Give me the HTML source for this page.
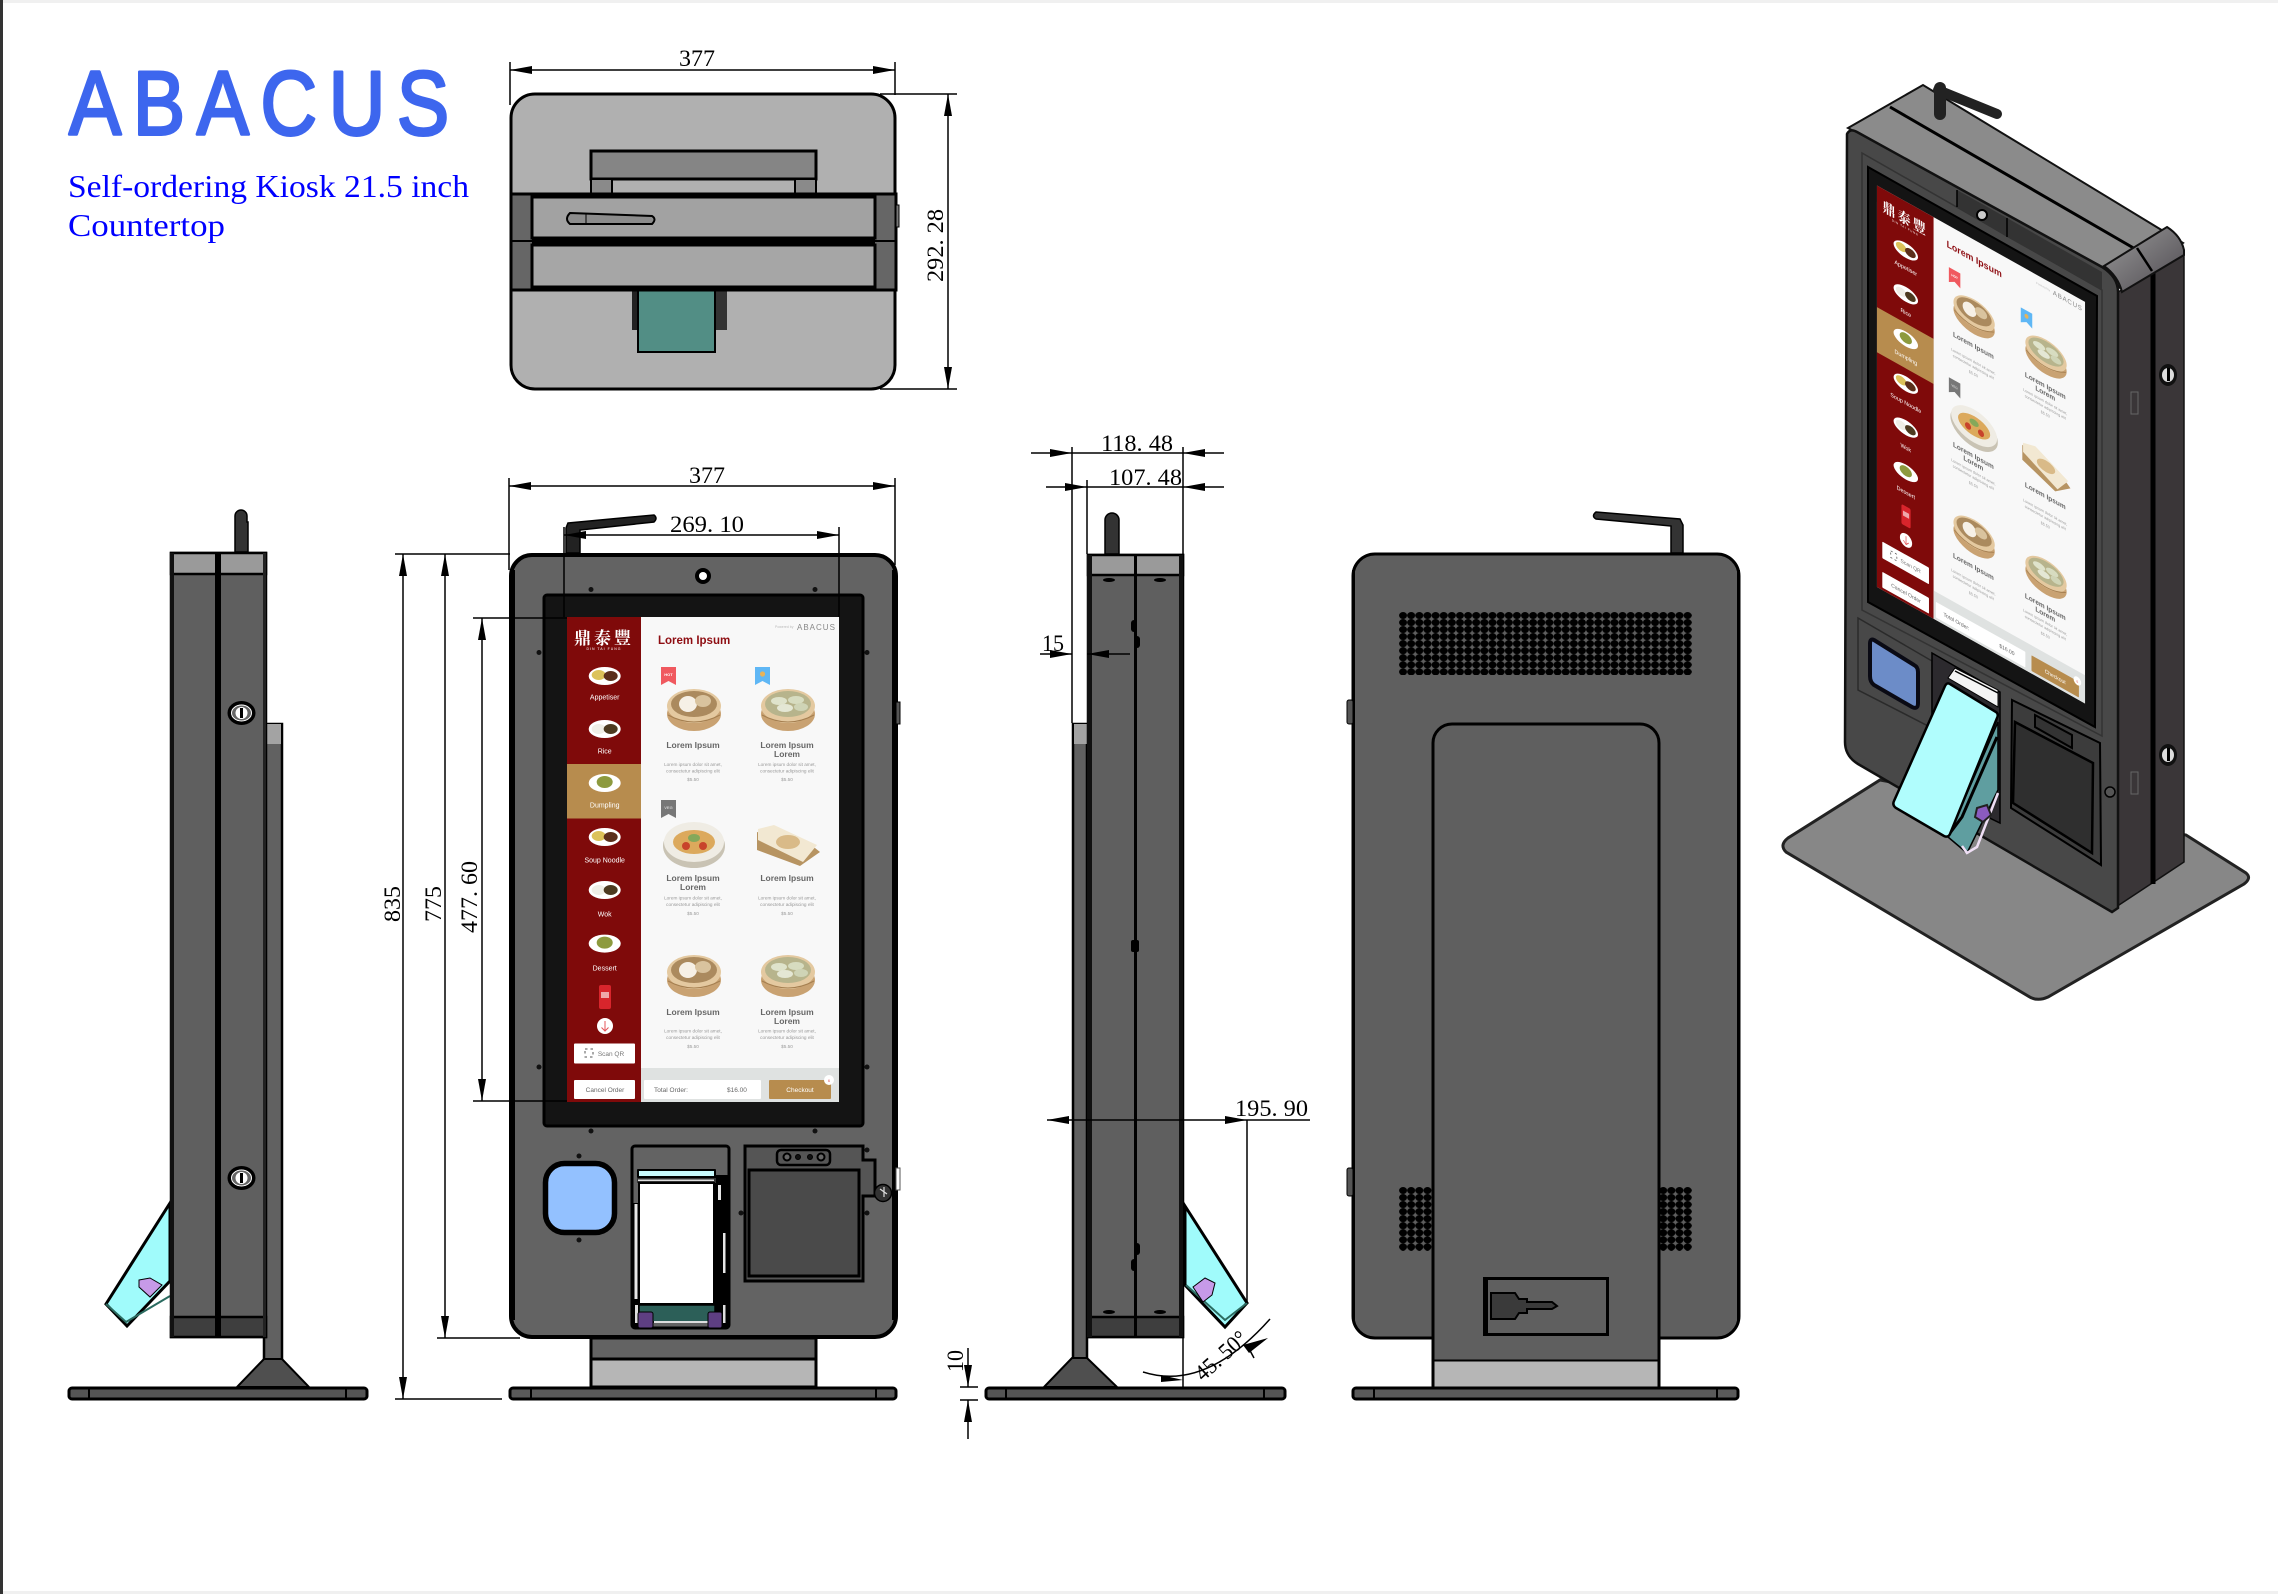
<!DOCTYPE html>
<html><head><meta charset="utf-8"><style>
html,body{margin:0;padding:0;background:#fff}
svg{display:block}
.d{font-family:"Liberation Serif",serif;font-size:23px;fill:#000}
.u{font-family:"Liberation Sans","Noto Sans CJK SC",sans-serif}
</style></head><body>
<svg width="2278" height="1594" viewBox="0 0 2278 1594" xmlns="http://www.w3.org/2000/svg">
<defs>
<marker id="a" markerUnits="userSpaceOnUse" markerWidth="22" markerHeight="8" refX="22" refY="4" orient="auto-start-reverse"><path d="M0,0L22,4L0,8z" fill="#000"/></marker>
<pattern id="sp" patternUnits="userSpaceOnUse" x="1399" y="612" width="8.13" height="7.05"><ellipse cx="4.06" cy="3.5" rx="4" ry="3.5" fill="#000"/></pattern>
<pattern id="sq" patternUnits="userSpaceOnUse" x="1399" y="1187" width="8.13" height="7.05"><ellipse cx="4.06" cy="3.5" rx="4" ry="3.5" fill="#000"/></pattern>
<linearGradient id="cg" x1="0" y1="0" x2="1" y2="1"><stop offset="0" stop-color="#9a9a9a"/><stop offset="1" stop-color="#4e4a50"/></linearGradient>
<g id="bun"><ellipse cy="5" rx="27" ry="17" fill="#c9a272"/><ellipse cy="-3" rx="27" ry="17" fill="#e4c9a0"/><ellipse cy="-5" rx="23" ry="13" fill="#ab8a5e"/><ellipse cx="-6" cy="-5" rx="9" ry="8" fill="#f6f0e6"/><ellipse cx="9" cy="-8" rx="8" ry="6" fill="#d9c39e"/><path d="M-26,6Q0,20 26,6" fill="none" stroke="#a57f50" stroke-width="1"/></g>
<g id="dum"><ellipse cy="5" rx="27" ry="17" fill="#c9a272"/><ellipse cy="-3" rx="27" ry="17" fill="#e4c9a0"/><ellipse cy="-5" rx="23" ry="13" fill="#b7b48c"/><ellipse cx="-9" cy="-8" rx="8" ry="4" fill="#dfe3cb"/><ellipse cx="8" cy="-9" rx="8" ry="4" fill="#d7dcc0"/><ellipse cx="-3" cy="-1" rx="8" ry="4" fill="#e4e7d4"/><ellipse cx="13" cy="-2" rx="7" ry="4" fill="#cfd4b6"/><path d="M-26,6Q0,20 26,6" fill="none" stroke="#a57f50" stroke-width="1"/></g>
<g id="pl1"><ellipse rx="16" ry="9" fill="#fff"/><ellipse cx="-6" cy="-1" rx="7" ry="5" fill="#dcc25a"/><ellipse cx="6" cy="0" rx="7" ry="5" fill="#5c2f1c"/></g>
<g id="pl2"><ellipse rx="16" ry="9" fill="#fff"/><ellipse cx="-6" rx="7" ry="5" fill="#efeee6"/><ellipse cx="6" rx="7" ry="5" fill="#4d3a20"/></g>
<g id="pl3"><ellipse rx="16" ry="9" fill="#fff"/><ellipse cy="-1" rx="8" ry="6" fill="#8d9a3e"/></g>
<g id="screen">
<rect x="567" y="617" width="272" height="485" fill="#f8f8f8"/>
<rect x="567" y="617" width="74" height="485" fill="#7f0a0a"/>
<rect x="567" y="764" width="74" height="54.5" fill="#b78c4e"/>
<text x="604" y="644" text-anchor="middle" class="u" style="font-family:'Noto Serif CJK SC',serif;font-weight:700" font-size="17" fill="#fff" letter-spacing="3">鼎泰豐</text>
<text x="604" y="650" text-anchor="middle" class="u" font-size="3.5" fill="#fff" letter-spacing="1">DIN TAI FUNG</text>
<use href="#pl1" x="604.7" y="676"/><use href="#pl2" x="604.7" y="729"/><use href="#pl3" x="604.7" y="783"/><use href="#pl1" x="604.7" y="837"/><use href="#pl2" x="604.7" y="890"/><use href="#pl3" x="604.7" y="943.6"/>
<g class="u" font-size="7" fill="#fff" text-anchor="middle">
<text x="604.7" y="699.5">Appetiser</text><text x="604.7" y="753.5">Rice</text><text x="604.7" y="807.5">Dumpling</text><text x="604.7" y="862.5">Soup Noodle</text><text x="604.7" y="916.5">Wok</text><text x="604.7" y="970.5">Dessert</text></g>
<rect x="599" y="985" width="12" height="24" rx="2" fill="#d8252c"/><rect x="601" y="992" width="8" height="6" fill="#fff" opacity=".6"/>
<circle cx="605" cy="1026" r="8" fill="#fff"/><path d="M605,1021V1031M601.5,1027.5L605,1031L608.5,1027.5" stroke="#e4555a" fill="none" stroke-width="1"/>
<rect x="574" y="1043.5" width="61" height="20" rx="1" fill="#fff"/>
<rect x="585" y="1049" width="8" height="8" fill="none" stroke="#555" stroke-dasharray="2.5 3"/>
<text x="611" y="1056" class="u" font-size="6.5" fill="#777" text-anchor="middle">Scan QR</text>
<rect x="574" y="1080" width="61" height="19" rx="1" fill="#fff"/>
<text x="605" y="1092" class="u" font-size="6.5" fill="#666" text-anchor="middle">Cancel Order</text>
<text x="658" y="644" class="u" font-size="11.5" font-weight="700" fill="#8e0d12">Lorem Ipsum</text>
<text x="775" y="628" class="u" font-size="3.5" fill="#bbb">Powered by</text>
<text x="797" y="630" class="u" font-size="8" fill="#888" letter-spacing="1">ABACUS</text>
<path d="M661,667H676V685L668.5,681L661,685z" fill="#f0595f"/><text x="668.5" y="676" class="u" font-size="4" font-weight="700" fill="#fff" text-anchor="middle">HOT</text>
<path d="M755,667H770V685L762.5,681L755,685z" fill="#5fb7f5"/><circle cx="762.5" cy="674" r="2.6" fill="#e7b35a"/>
<path d="M661,800H676V818L668.5,814L661,818z" fill="#777"/><text x="668.5" y="809" class="u" font-size="4" font-weight="700" fill="#ccc" text-anchor="middle">VEG</text>
<use href="#bun" x="694" y="709"/><use href="#dum" x="788" y="709"/>
<ellipse cx="694" cy="846" rx="31" ry="22" fill="#c9c3b4"/><ellipse cx="694" cy="842" rx="30" ry="20" fill="#efece4"/><ellipse cx="694" cy="842" rx="21" ry="12" fill="#dca95c"/><circle cx="686" cy="846" r="4" fill="#c8432b"/><circle cx="703" cy="846" r="4" fill="#c8432b"/><ellipse cx="694" cy="838" rx="6" ry="4" fill="#85a85a"/>
<path d="M757,832L815,848L820,852L800,866L757,850L757,842z" fill="#b79462"/><path d="M758,829L774,825L817,845L803,862L758,840z" fill="#f2e8d2"/><ellipse cx="788" cy="842" rx="12" ry="7" fill="#d9ba88"/>
<use href="#bun" x="694" y="975"/><use href="#dum" x="788" y="975"/>
<g class="u" font-size="8.5" font-weight="700" fill="#666" text-anchor="middle">
<text x="693" y="748">Lorem Ipsum</text><text x="787" y="748">Lorem Ipsum</text><text x="787" y="757">Lorem</text>
<text x="693" y="881">Lorem Ipsum</text><text x="693" y="890">Lorem</text><text x="787" y="881">Lorem Ipsum</text>
<text x="693" y="1015">Lorem Ipsum</text><text x="787" y="1015">Lorem Ipsum</text><text x="787" y="1024">Lorem</text></g>
<g class="u" font-size="4.7" fill="#999" text-anchor="middle">
<text x="693" y="766">Lorem ipsum dolor sit amet,</text><text x="693" y="772.5">consectetur adipiscing elit</text><text x="693" y="781">$5.50</text>
<text x="787" y="766">Lorem ipsum dolor sit amet,</text><text x="787" y="772.5">consectetur adipiscing elit</text><text x="787" y="781">$5.50</text>
<text x="693" y="899.5">Lorem ipsum dolor sit amet,</text><text x="693" y="906">consectetur adipiscing elit</text><text x="693" y="915">$5.50</text>
<text x="787" y="899.5">Lorem ipsum dolor sit amet,</text><text x="787" y="906">consectetur adipiscing elit</text><text x="787" y="915">$5.50</text>
<text x="693" y="1032.5">Lorem ipsum dolor sit amet,</text><text x="693" y="1039">consectetur adipiscing elit</text><text x="693" y="1048">$5.50</text>
<text x="787" y="1032.5">Lorem ipsum dolor sit amet,</text><text x="787" y="1039">consectetur adipiscing elit</text><text x="787" y="1048">$5.50</text></g>
<rect x="641" y="1068" width="198" height="34" fill="#dfe2e1"/>
<rect x="644" y="1080" width="117" height="19" rx="1" fill="#fff"/>
<text x="654" y="1092" class="u" font-size="6.5" fill="#666">Total Order:</text><text x="727" y="1092" class="u" font-size="6.5" fill="#666">$16.00</text>
<rect x="769" y="1080" width="62" height="19" rx="1" fill="#b78c4e"/>
<text x="800" y="1092" class="u" font-size="6.5" fill="#fff" text-anchor="middle">Checkout</text>
<circle cx="829" cy="1080" r="5" fill="#fff"/><text x="829" y="1082" class="u" font-size="4" fill="#e4555a" text-anchor="middle">6</text>
</g>
</defs>

<rect width="2278" height="1594" fill="#fff"/>
<rect width="2278" height="3" fill="#f0f0f0"/>
<rect y="1591" width="2278" height="3" fill="#f0f0f0"/>
<rect width="3" height="1594" fill="#333"/>

<!-- Logo & title -->
<text transform="translate(69,134.5) scale(0.86,1)" font-family="Liberation Sans,sans-serif" font-size="91" fill="#3d66ee" stroke="#3d66ee" stroke-width="3" stroke-linejoin="round" textLength="442" lengthAdjust="spacing">ABACUS</text>
<text x="68" y="197" font-family="Liberation Serif,serif" font-size="32" fill="#0000ff" textLength="401" lengthAdjust="spacingAndGlyphs">Self-ordering Kiosk 21.5 inch</text>
<text x="68" y="236" font-family="Liberation Serif,serif" font-size="32" fill="#0000ff" textLength="157" lengthAdjust="spacingAndGlyphs">Countertop</text>

<!-- Top view -->
<rect x="511" y="94" width="384" height="295" rx="24" fill="#b0b0b0" stroke="#000" stroke-width="3"/>
<rect x="591" y="151" width="225" height="28" fill="#858585" stroke="#000" stroke-width="3"/>
<rect x="591" y="179" width="21" height="15" fill="#8a8a8a" stroke="#000" stroke-width="2"/>
<rect x="795" y="179" width="21" height="15" fill="#8a8a8a" stroke="#000" stroke-width="2"/>
<rect x="632" y="290" width="6" height="40" fill="#222"/><rect x="715" y="290" width="12" height="40" fill="#333"/>
<rect x="638" y="290" width="77" height="62" fill="#528e85" stroke="#000" stroke-width="2"/>
<rect x="511" y="194" width="385" height="96" fill="#666" stroke="#000" stroke-width="3"/>
<rect x="532" y="197" width="343" height="41" fill="#a2a2a2" stroke="#000" stroke-width="3"/>
<rect x="532" y="245" width="343" height="42" fill="#a6a6a6" stroke="#000" stroke-width="3"/>
<rect x="532" y="238" width="343" height="7" fill="#000"/>
<rect x="511" y="240" width="385" height="2" fill="#000"/>
<path d="M896,205h3v22h-3z" fill="#777" stroke="#000"/>
<path d="M570,213L652,216Q657,219 652,224L570,224Q564,219 570,213z" fill="#8c8c8c" stroke="#000" stroke-width="2"/><line x1="586" y1="213" x2="586" y2="224" stroke="#000"/>

<!-- Top dims -->
<g stroke="#000" stroke-width="1.5" fill="none">
<line x1="510" y1="62" x2="510" y2="105"/><line x1="895" y1="62" x2="895" y2="95"/>
<line x1="510" y1="70" x2="895" y2="70" marker-start="url(#a)" marker-end="url(#a)"/>
<line x1="880" y1="94" x2="957" y2="94"/><line x1="880" y1="389" x2="957" y2="389"/>
<line x1="948" y1="94" x2="948" y2="389" marker-start="url(#a)" marker-end="url(#a)"/>
</g>
<text x="679" y="66" class="d" textLength="36" lengthAdjust="spacingAndGlyphs">377</text>
<text transform="translate(943,282) rotate(-90)" class="d" textLength="73" lengthAdjust="spacingAndGlyphs">292. 28</text>

<!-- Left side view -->
<g stroke="#000">
<path d="M235,516a6,6 0 0 1 12,0v6h1v30h-13z" fill="#333" stroke-width="1.5"/>
<path d="M170,1203L106,1304L127,1326L170,1281z" fill="#a0fbfb" stroke-width="3"/>
<path d="M106,1304L126,1322L170,1296" fill="none" stroke="#2b6b60" stroke-width="2"/>
<path d="M139,1280L150,1278L162,1285L150,1297L139,1287z" fill="#c79ae8" stroke-width="1"/>
<rect x="264" y="724" width="18" height="636" fill="#616161" stroke-width="2.5"/>
<rect x="265" y="724" width="16" height="20" fill="#a3a3a3" stroke="none"/>
<path d="M264,1359L237,1387H309L282,1359z" fill="#4f4f4f" stroke-width="2"/>
<rect x="69" y="1388" width="298" height="11" rx="3" fill="#555" stroke-width="3"/>
<line x1="89" y1="1388" x2="89" y2="1399" stroke-width="2"/><line x1="346" y1="1388" x2="346" y2="1399" stroke-width="2"/>
<rect x="171" y="553" width="95" height="784" fill="#5f5f5f" stroke-width="2.5"/>
<rect x="171" y="553" width="95" height="21" fill="#9a9a9a" stroke-width="2.5"/>
<rect x="171" y="1317" width="95" height="20" fill="#3e3e3e" stroke-width="2.5"/>
</g>
<rect x="170" y="553" width="4" height="784" fill="#111"/><rect x="215" y="553" width="6" height="784" fill="#000"/><rect x="263" y="553" width="3" height="784" fill="#222"/>
<g><ellipse cx="241.5" cy="713" rx="14" ry="12" fill="#000"/><ellipse cx="241.5" cy="713" rx="10" ry="8" fill="#666" stroke="#fff" stroke-width="1"/><circle cx="241.5" cy="713" r="6" fill="#fff"/><rect x="240" y="708" width="3" height="10" fill="#000"/>
<ellipse cx="241.5" cy="1178" rx="14" ry="12" fill="#000"/><ellipse cx="241.5" cy="1178" rx="10" ry="8" fill="#666" stroke="#fff" stroke-width="1"/><circle cx="241.5" cy="1178" r="6" fill="#fff"/><rect x="240" y="1173" width="3" height="10" fill="#000"/></g>

<!-- Front view -->
<path d="M568,523L654,515Q658,518 654,522L580,530V553H566V528z" fill="#222" stroke="#000" stroke-width="1.5"/>
<rect x="591" y="1338" width="225" height="21" fill="#636363" stroke="#000" stroke-width="3"/>
<rect x="591" y="1359" width="225" height="28" fill="#b6b6b6" stroke="#000" stroke-width="3"/>
<rect x="510" y="1388" width="386" height="11" rx="3" fill="#5a5a5a" stroke="#000" stroke-width="3"/>
<line x1="531" y1="1388" x2="531" y2="1399" stroke="#000" stroke-width="2"/><line x1="876" y1="1388" x2="876" y2="1399" stroke="#000" stroke-width="2"/>
<rect x="511" y="555" width="385" height="782" rx="21" fill="#636363" stroke="#000" stroke-width="4"/>
<rect x="510" y="570" width="5" height="750" fill="#000"/><rect x="892" y="570" width="5" height="750" fill="#000"/>
<rect x="896" y="702" width="4" height="22" fill="#555" stroke="#000"/>
<rect x="544" y="595" width="319" height="531" rx="3" fill="#141414" stroke="#000" stroke-width="3"/>
<use href="#screen"/>
<ellipse cx="703" cy="576" rx="8" ry="8" fill="#000"/><ellipse cx="703" cy="576" rx="4" ry="4" fill="#fff"/>
<g fill="#111"><circle cx="591" cy="589.5" r="2.5"/><circle cx="815" cy="589.5" r="2.5"/><circle cx="539" cy="652.5" r="2.5"/><circle cx="867" cy="652.5" r="2.5"/><circle cx="539" cy="1067" r="2.5"/><circle cx="867" cy="1067" r="2.5"/><circle cx="591" cy="1131" r="2.5"/><circle cx="815" cy="1131" r="2.5"/><circle cx="579" cy="1156" r="2.5"/><circle cx="579" cy="1240" r="2.5"/><circle cx="741" cy="1213" r="2.5"/><circle cx="867" cy="1213" r="2.5"/><circle cx="867" cy="1150" r="2.5"/></g>
<rect x="545.5" y="1163.5" width="69" height="69" rx="19" fill="#93c1ff" stroke="#000" stroke-width="5.5"/>
<!-- printer -->
<rect x="632" y="1146" width="97" height="182" rx="3" fill="#636363" stroke="#000" stroke-width="3"/>
<rect x="632" y="1203" width="8" height="125" fill="#000"/><rect x="714" y="1175" width="14" height="153" fill="#000"/>
<rect x="634.5" y="1204" width="3" height="95" fill="#e6e6e6"/><rect x="635" y="1305" width="3" height="18" fill="#ddd"/>
<rect x="718" y="1185" width="3" height="15" fill="#e6e6e6"/><rect x="723" y="1233" width="2.5" height="40" fill="#e6e6e6"/><rect x="723" y="1305" width="2.5" height="18" fill="#ddd"/>
<rect x="637" y="1169" width="79" height="9" rx="1" fill="#000"/><rect x="639" y="1171" width="75" height="5" fill="#c8fafc"/>
<rect x="637" y="1178" width="79" height="5" fill="#333"/><rect x="638" y="1179.5" width="76" height="1.5" fill="#ddd"/>
<rect x="639" y="1183" width="75" height="121" fill="#fff" stroke="#000" stroke-width="2"/>
<rect x="639" y="1305" width="76" height="17" fill="#2c5f58" stroke="#000" stroke-width="1.5"/>
<rect x="654" y="1321" width="54" height="2" fill="#ddd"/>
<rect x="638" y="1312" width="15" height="16" rx="2" fill="#5e3f82" stroke="#000"/>
<rect x="708" y="1312" width="14" height="16" rx="2" fill="#5e3f82" stroke="#000"/>
<!-- card reader -->
<path d="M745,1146H863V1160H875V1196H863V1281H745z" fill="#555" stroke="#000" stroke-width="3"/>
<rect x="749" y="1170" width="110" height="106" fill="#4a4a4a" stroke="#000" stroke-width="3"/>
<rect x="777" y="1150" width="53" height="15" rx="4" fill="#555" stroke="#000" stroke-width="2.5"/>
<g fill="#111" stroke="#000"><circle cx="787" cy="1157" r="3.5" fill="#666" stroke-width="2"/><circle cx="798" cy="1157" r="2.5"/><circle cx="810" cy="1157" r="2.5"/><circle cx="821" cy="1157" r="3.5" fill="#666" stroke-width="2"/></g>
<circle cx="883" cy="1193" r="8.5" fill="#333" stroke="#000" stroke-width="1.5"/><path d="M880,1189L887,1194M884,1187V1197" stroke="#ddd" stroke-width="1.2"/>
<rect x="896" y="1168" width="4" height="22" fill="#fff" stroke="#555"/>

<!-- Front dims -->
<g stroke="#000" stroke-width="1.5" fill="none">
<line x1="509" y1="478" x2="509" y2="570"/><line x1="895" y1="478" x2="895" y2="565"/>
<line x1="509" y1="486" x2="895" y2="486" marker-start="url(#a)" marker-end="url(#a)"/>
<line x1="564" y1="527" x2="564" y2="617"/><line x1="839" y1="527" x2="839" y2="617"/>
<line x1="564" y1="535" x2="839" y2="535" marker-start="url(#a)" marker-end="url(#a)"/>
<line x1="395" y1="554" x2="510" y2="554"/><line x1="437" y1="1338" x2="520" y2="1338"/><line x1="395" y1="1399" x2="502" y2="1399"/>
<line x1="473" y1="618" x2="567" y2="618"/><line x1="473" y1="1101" x2="567" y2="1101"/>
<line x1="403" y1="554" x2="403" y2="1399" marker-start="url(#a)" marker-end="url(#a)"/>
<line x1="445" y1="554" x2="445" y2="1338" marker-start="url(#a)" marker-end="url(#a)"/>
<line x1="482" y1="618" x2="482" y2="1101" marker-start="url(#a)" marker-end="url(#a)"/>
</g>
<text x="689" y="483" class="d" textLength="36" lengthAdjust="spacingAndGlyphs">377</text>
<text x="670" y="532" class="d" textLength="74" lengthAdjust="spacingAndGlyphs">269. 10</text>
<text transform="translate(400,922) rotate(-90)" class="d" textLength="36" lengthAdjust="spacingAndGlyphs">835</text>
<text transform="translate(441,922) rotate(-90)" class="d" textLength="36" lengthAdjust="spacingAndGlyphs">775</text>
<text transform="translate(477,933) rotate(-90)" class="d" textLength="72" lengthAdjust="spacingAndGlyphs">477. 60</text>

<!-- Right side view -->
<g stroke="#000">
<path d="M1105,520a7,7 0 0 1 14,0v34h-14z" fill="#333" stroke-width="1.5"/>
<path d="M1185,1206L1247,1303L1225,1327L1185,1285z" fill="#a0fbfb" stroke-width="3"/>
<path d="M1186,1285L1225,1320L1247,1303" fill="none" stroke="#2b6b60" stroke-width="2"/>
<path d="M1193,1287L1205,1278L1215,1283L1212,1295L1203,1302z" fill="#c79ae8" stroke-width="1"/>
<rect x="1073" y="724" width="14" height="636" fill="#616161" stroke-width="2.5"/>
<rect x="1074" y="724" width="13" height="20" fill="#a3a3a3" stroke="none"/>
<path d="M1072,1358L1044,1387H1117L1087,1358z" fill="#4f4f4f" stroke-width="2"/>
<rect x="986" y="1388" width="299" height="11" rx="3" fill="#555" stroke-width="3"/>
<line x1="1006" y1="1388" x2="1006" y2="1399" stroke-width="2"/><line x1="1264" y1="1388" x2="1264" y2="1399" stroke-width="2"/>
<rect x="1088" y="555" width="95" height="782" fill="#5f5f5f" stroke-width="2.5"/>
<rect x="1088" y="555" width="95" height="20" fill="#9a9a9a" stroke-width="2.5"/>
<rect x="1088" y="1317" width="95" height="20" fill="#3e3e3e" stroke-width="2.5"/>
</g>
<rect x="1087" y="555" width="5" height="782" fill="#111"/><rect x="1179" y="555" width="4" height="782" fill="#111"/><rect x="1134" y="555" width="3" height="782" fill="#000"/>
<g fill="#000"><rect x="1131" y="620" width="6" height="12" rx="3"/><rect x="1134" y="636" width="6" height="12" rx="3"/><rect x="1131" y="940" width="8" height="12" rx="2"/><rect x="1134" y="1243" width="6" height="12" rx="3"/><rect x="1131" y="1259" width="6" height="12" rx="3"/>
<ellipse cx="1109" cy="580" rx="6" ry="2"/><ellipse cx="1160" cy="580" rx="6" ry="2"/><ellipse cx="1109" cy="1312" rx="6" ry="2"/><ellipse cx="1160" cy="1312" rx="6" ry="2"/></g>

<!-- Right side dims -->
<g stroke="#000" stroke-width="1.5" fill="none">
<line x1="1072" y1="447" x2="1072" y2="723"/><line x1="1087" y1="480" x2="1087" y2="554"/><line x1="1183" y1="447" x2="1183" y2="554"/>
<line x1="1072" y1="453" x2="1183" y2="453"/><line x1="1087" y1="487" x2="1183" y2="487"/>
<line x1="1031" y1="453" x2="1072" y2="453" marker-end="url(#a)"/><line x1="1224" y1="453" x2="1183" y2="453" marker-end="url(#a)"/>
<line x1="1046" y1="487" x2="1087" y2="487" marker-end="url(#a)"/><line x1="1224" y1="487" x2="1183" y2="487" marker-end="url(#a)"/>
<line x1="1040" y1="654" x2="1072" y2="654" marker-end="url(#a)"/><line x1="1130" y1="654" x2="1087" y2="654" marker-end="url(#a)"/>
<line x1="1069" y1="1120" x2="1047" y2="1120" marker-end="url(#a)"/><line x1="1069" y1="1120" x2="1225" y2="1120"/><line x1="1225" y1="1120" x2="1247" y2="1120" marker-end="url(#a)"/><line x1="1247" y1="1120" x2="1310" y2="1120"/>
<line x1="1247" y1="1120" x2="1247" y2="1303"/>
<line x1="1183" y1="1338" x2="1183" y2="1388"/>
<path d="M1143,1372Q1205,1392 1270,1319"/>
<line x1="1247" y1="1345" x2="1254" y2="1358"/>
<line x1="968" y1="1348" x2="968" y2="1387" marker-end="url(#a)"/><line x1="968" y1="1439" x2="968" y2="1400" marker-end="url(#a)"/>
<line x1="960" y1="1387" x2="978" y2="1387"/><line x1="960" y1="1400" x2="978" y2="1400"/>
</g>
<path d="M1161,1375L1183,1380L1161,1382z" fill="#000"/>
<path d="M1268,1338L1249,1353L1243,1345z" fill="#000"/>
<text x="1101" y="451" class="d" textLength="72" lengthAdjust="spacingAndGlyphs">118. 48</text>
<text x="1109" y="485" class="d" textLength="73" lengthAdjust="spacingAndGlyphs">107. 48</text>
<text x="1042" y="651" class="d" textLength="22" lengthAdjust="spacingAndGlyphs">15</text>
<text x="1235" y="1116" class="d" textLength="73" lengthAdjust="spacingAndGlyphs">195. 90</text>
<text transform="translate(1203,1382) rotate(-42)" class="d" textLength="62" lengthAdjust="spacingAndGlyphs">45. 50°</text>
<text transform="translate(963,1372) rotate(-90)" class="d" textLength="22" lengthAdjust="spacingAndGlyphs">10</text>

<!-- Back view -->
<path d="M1596,512L1680,519L1683,525V553H1671V526L1596,519Q1591,516 1596,512z" fill="#333" stroke="#000" stroke-width="1.5"/>
<rect x="1353" y="554" width="386" height="784" rx="22" fill="#5f5f5f" stroke="#000" stroke-width="3"/>
<rect x="1352" y="570" width="3" height="750" fill="#000"/><rect x="1737" y="570" width="3" height="750" fill="#000"/>
<rect x="1347" y="700" width="6" height="24" rx="2" fill="#555" stroke="#000"/><rect x="1347" y="1168" width="6" height="28" rx="2" fill="#555" stroke="#000"/>
<rect x="1399" y="612" width="293" height="63" fill="url(#sp)"/>
<rect x="1399" y="1187" width="33" height="64" fill="url(#sq)"/>
<rect x="1660" y="1187" width="32" height="64" fill="#5f5f5f"/><rect x="1660" y="1187" width="32" height="64" fill="url(#sq)"/>
<path d="M1433,1387V743a19,19 0 0 1 19,-19H1640a19,19 0 0 1 19,19V1387z" fill="#5f5f5f" stroke="#000" stroke-width="3"/>
<rect x="1434.5" y="1361" width="223" height="26" fill="#b6b6b6"/><line x1="1433" y1="1360.5" x2="1659" y2="1360.5" stroke="#000" stroke-width="2"/>
<rect x="1353" y="1388" width="385" height="11" rx="3" fill="#5a5a5a" stroke="#000" stroke-width="3"/>
<line x1="1374" y1="1388" x2="1374" y2="1399" stroke="#000" stroke-width="2"/><line x1="1717" y1="1388" x2="1717" y2="1399" stroke="#000" stroke-width="2"/>
<rect x="1484.5" y="1278.5" width="123" height="56" fill="#5f5f5f" stroke="#000" stroke-width="3"/>
<rect x="1484" y="1278" width="4" height="57" fill="#000"/>
<path d="M1491,1293H1515L1519,1299H1527V1302H1552L1557,1306L1552,1309H1527V1313H1519L1515,1319H1491z" fill="#3a3a3a" stroke="#000" stroke-width="2"/>

<!-- Isometric view -->
<path d="M1788,838Q1779,845 1786,852L2028,996Q2037,1002 2048,997L2244,884Q2252,878 2246,873L2186,835L1880,780z" fill="#878787" stroke="#222" stroke-width="3"/>
<!-- side -->
<path d="M2118,292L2184,255V862L2116,907z" fill="#3a3638" stroke="#111" stroke-width="1.5"/>
<line x1="2153" y1="272" x2="2153" y2="884" stroke="#000" stroke-width="5"/>
<!-- top -->
<path d="M1848,128L1923,85L2183,243L2120,288L2104,268z" fill="#8b8b8b" stroke="#111" stroke-width="2"/>
<path d="M1890,107L2137,250" stroke="#000" stroke-width="3" fill="none"/>
<path d="M2104,266L2167,227Q2181,236 2184,250V255L2122,292Q2118,276 2104,266z" fill="url(#cg)" stroke="#111" stroke-width="2"/>
<line x1="2137" y1="248" x2="2152" y2="271" stroke="#000" stroke-width="2.5"/>
<!-- front -->
<path d="M1847,134Q1850,128 1857,132L2102,267Q2118,277 2118,292V908L2112,912L1858,764Q1845,756 1845,742z" fill="#484848" stroke="#111" stroke-width="2.5"/>
<path d="M1862,153L2102,290V736L1862,610z" fill="none" stroke="#333" stroke-width="1.5"/>
<rect x="2131" y="392" width="7" height="22" fill="none" stroke="#666"/><rect x="2131" y="772" width="7" height="22" fill="none" stroke="#666"/>
<g><ellipse cx="2168" cy="375" rx="9" ry="11" fill="#111"/><ellipse cx="2168" cy="375" rx="6" ry="7" fill="#ddd"/><rect x="2167" y="368" width="3" height="13" fill="#000"/>
<ellipse cx="2168" cy="755" rx="9" ry="11" fill="#111"/><ellipse cx="2168" cy="755" rx="6" ry="7" fill="#ddd"/><rect x="2167" y="748" width="3" height="13" fill="#000"/></g>
<path d="M1868,167L2097,296L2095,727L1868,602z" fill="#141414" stroke="#000" stroke-width="2"/>
<use href="#screen" transform="matrix(0.765,0.428,0,0.828,1443.2,-568.1)"/>
<path d="M1957,190L2007,218L2102,272V290L2007,237L1957,207z" fill="#333"/><line x1="2007" y1="218" x2="2007" y2="237" stroke="#000" stroke-width="1.5"/><line x1="1957" y1="190" x2="1957" y2="207" stroke="#000" stroke-width="1.5"/>
<ellipse cx="1982" cy="215" rx="5" ry="5" fill="#ccc" stroke="#000" stroke-width="2"/>
<!-- antenna -->
<path d="M1938,90L1997,114" stroke="#222" stroke-width="10" stroke-linecap="round"/>
<path d="M1940,88V114" stroke="#222" stroke-width="12" stroke-linecap="round"/>
<path d="M1858,618L1932,661V728L1858,690z" fill="none" stroke="#2a2a2a" stroke-width="1.5"/>
<path d="M1874,640L1914,665Q1918,667 1918,672V703Q1918,710 1912,707L1874,685Q1870,682 1870,676V644Q1870,638 1874,640z" fill="#6c8cc8" stroke="#0a0a14" stroke-width="4"/>
<path d="M1932,653L2000,692V823L1932,790z" fill="#2c2a2e" stroke="#000" stroke-width="1.5"/>
<path d="M1955,668L1998,690V707L1948,678z" fill="#f4f4f4" stroke="#000"/>
<path d="M1955,671L1998,693" stroke="#000" stroke-width="1.5"/>
<path d="M1998,722V790L1967,853L1948,837z" fill="#5f9ea0" stroke="#000" stroke-width="1.5"/>
<path d="M1997,737L1962,817L1947,837" fill="none" stroke="#000" stroke-width="3"/>
<path d="M1998,793L1977,847L1967,853L1962,846" fill="none" stroke="#efdff5" stroke-width="2.5"/>
<path d="M1950,684L1996,712Q1999,714 1997,718L1950,834Q1948,838 1944,836L1896,808Q1892,805 1894,801L1945,686Q1947,682 1950,684z" fill="#b0fdfd" stroke="#000" stroke-width="2.5"/>
<path d="M1977,808L1987,805L1991,815L1983,822L1975,817z" fill="#8a5bc0" stroke="#222" stroke-width="2"/>
<path d="M2012,700L2100,743L2101,865L2011,808z" fill="#3c3c3c" stroke="#000" stroke-width="2"/>
<path d="M2015,722L2093,763L2092,853L2013,803z" fill="#2f2f2f" stroke="#000" stroke-width="2.5"/>
<path d="M2035,715L2072,735V748L2035,727z" fill="#333" stroke="#000" stroke-width="2"/>
<circle cx="2110" cy="792" r="5" fill="#555" stroke="#000" stroke-width="1.5"/>
</svg>
</body></html>
